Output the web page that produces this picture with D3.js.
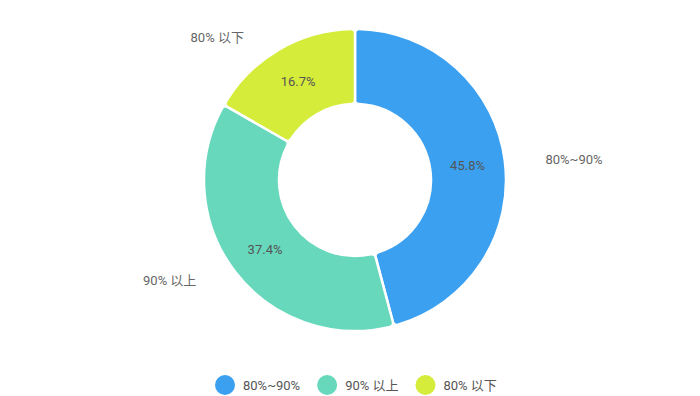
<!DOCTYPE html>
<html>
<head>
<meta charset="utf-8">
<script src="https://cdn.jsdelivr.net/npm/d3@7"></script>
<style>
body{margin:0;background:#fff;}
svg text{font-family:Roboto,"Noto Sans","Noto Sans CJK SC",sans-serif;}
</style>
</head>
<body>
<svg id="chart" width="700" height="396"></svg>
<script>
// 数据
var categories = ["80%~90%", "90% 以上", "80% 以下"];
var values = [45.8, 37.4, 16.7];
var colors = ["#3ba0f0", "#67d8bc", "#d5ec3a"];
// 外部标签的角度微调（度）和半径
var labelShift = [2, 9, -14];
var labelRad = [220, 211, 198];

var W = 700, H = 396;
var cx = 355, cy = 180, R = 151, r0 = 76;

var svg = d3.select("#chart");
var g = svg.append("g").attr("transform", "translate(" + cx + "," + cy + ")");

var pie = d3.pie().sort(null).value(function(d){ return d; });
var arcs = pie(values);

var arc = d3.arc().innerRadius(r0).outerRadius(R).cornerRadius(4);
var mid = d3.arc().innerRadius((r0 + R) / 2).outerRadius((r0 + R) / 2);

g.selectAll("path.slice")
  .data(arcs)
  .enter().append("path")
  .attr("class", "slice")
  .attr("d", arc)
  .attr("fill", function(d, i){ return colors[i]; })
  .attr("stroke", "#fff")
  .attr("stroke-width", 2.5);

// 内部百分比
g.selectAll("text.pct")
  .data(arcs)
  .enter().append("text")
  .attr("class", "pct")
  .attr("x", function(d){ return mid.centroid(d)[0]; })
  .attr("y", function(d){ return mid.centroid(d)[1]; })
  .attr("dy", "0.35em")
  .attr("text-anchor", "middle")
  .attr("font-size", 13)
  .attr("fill", "#555")
  .text(function(d){ return d.data.toFixed(1) + "%"; });

// 外部标签
function ang(d, i){
  return (d.startAngle + d.endAngle) / 2 + labelShift[i] * Math.PI / 180;
}
g.selectAll("text.lab")
  .data(arcs)
  .enter().append("text")
  .attr("class", "lab")
  .attr("x", function(d, i){ return Math.sin(ang(d, i)) * labelRad[i]; })
  .attr("y", function(d, i){ return -Math.cos(ang(d, i)) * labelRad[i]; })
  .attr("dy", "0.35em")
  .attr("text-anchor", "middle")
  .attr("font-size", 13)
  .attr("fill", "#666")
  .text(function(d, i){ return categories[i]; });

// 图例
var legend = svg.append("g").attr("transform", "translate(0,385)");
var items = legend.selectAll("g.item")
  .data(categories)
  .enter().append("g")
  .attr("class", "item");
items.append("circle")
  .attr("r", 10)
  .attr("cx", 0)
  .attr("fill", function(d, i){ return colors[i]; });
items.append("text")
  .attr("x", 18)
  .attr("dy", "0.35em")
  .attr("font-size", 13)
  .attr("fill", "#555")
  .text(function(d){ return d; });

// 居中排列
var x = 0, gap = 27, offs = [];
items.each(function(){
  offs.push(x);
  x += 18 + this.querySelector("text").getComputedTextLength() + gap;
});
var start = 225;
items.attr("transform", function(d, i){ return "translate(" + (start + offs[i]) + ",0)"; });
</script>
</body>
</html>
